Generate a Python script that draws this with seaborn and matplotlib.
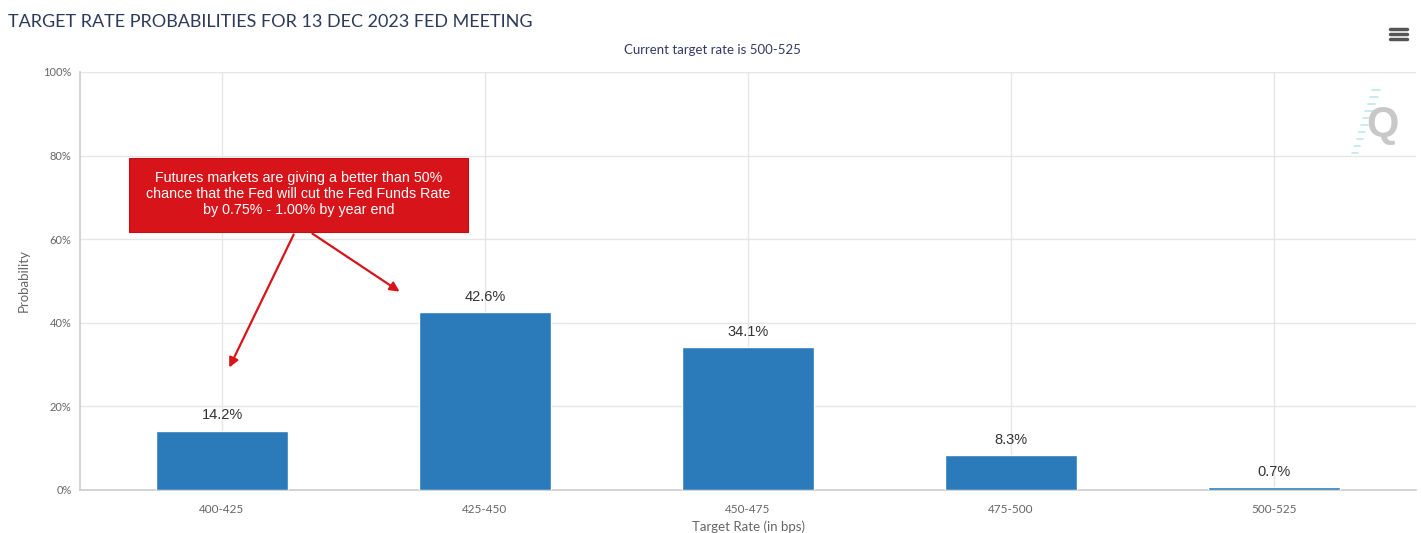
import matplotlib
matplotlib.use("Agg")
import matplotlib.pyplot as plt
import seaborn as sns
import pandas as pd
from matplotlib.patches import Rectangle
from matplotlib.lines import Line2D

categories = ["400-425", "425-450", "450-475", "475-500", "500-525"]
probabilities = [14.2, 42.6, 34.1, 8.3, 0.7]
y_ticks = [0, 20, 40, 60, 80, 100]
y_tick_labels = ["0%", "20%", "40%", "60%", "80%", "100%"]

sns.set_theme(style="white")
plt.rcParams["font.family"] = ["Lato", "DejaVu Sans"]

df = pd.DataFrame({"rate": categories, "prob": probabilities})

fig = plt.figure(figsize=(14.21, 5.33), dpi=100)
ax = fig.add_axes([80 / 1421, 43 / 533, 1336 / 1421, 418 / 533])

sns.barplot(data=df, x="rate", y="prob", color="#2b7bba", saturation=1,
            width=0.5, ax=ax, zorder=3)

ax.set_xlim(-0.54, 4.54)
ax.set_ylim(0, 100)
ax.set_yticks(y_ticks)
ax.set_yticklabels(y_tick_labels, color="#666666", fontsize=8)
ax.set_xticks(range(len(categories)))
ax.set_xticklabels(categories, color="#666666", fontsize=8.5)
ax.tick_params(axis="x", length=5, color="#cccccc", pad=5)
ax.tick_params(axis="y", length=0, pad=6)
ax.grid(True, color="#e6e6e6", linewidth=1, zorder=0)
ax.set_axisbelow(True)
for s in ["top", "right"]:
    ax.spines[s].set_visible(False)
ax.spines["left"].set_color("#cccccc")
ax.spines["bottom"].set_color("#cccccc")
ax.spines["left"].set_linewidth(1.2)
ax.spines["bottom"].set_linewidth(1.2)

ax.set_xlabel("Target Rate (in bps)", color="#666666", fontsize=9.5, labelpad=4)
ax.set_ylabel("Probability", color="#666666", fontsize=9.5, labelpad=10)

for i, v in enumerate(probabilities):
    ax.text(i, v + 2.0, f"{v}%", ha="center", va="bottom", fontsize=10.5,
            color="#333333", family=["Liberation Sans", "DejaVu Sans"], zorder=5)

# annotation box
ax.add_patch(Rectangle((-0.354, 61.7), 1.289, 17.7, facecolor="#d7141a",
                       edgecolor="#c01015", linewidth=0.8, zorder=6))
ax.text(0.291, 70.8,
        "Futures markets are giving a better than 50%\n"
        "chance that the Fed will cut the Fed Funds Rate\n"
        "by 0.75% - 1.00% by year end",
        ha="center", va="center", color="white", fontsize=10.3,
        family=["Liberation Sans", "DejaVu Sans"], linespacing=1.2, zorder=7)
ax.annotate("", xy=(0.023, 28.7), xytext=(0.277, 61.7),
            arrowprops=dict(arrowstyle="-|>", color="#d7141a", lw=1.6,
                            mutation_scale=14), zorder=6)
ax.annotate("", xy=(0.684, 47.1), xytext=(0.335, 61.7),
            arrowprops=dict(arrowstyle="-|>", color="#d7141a", lw=1.6,
                            mutation_scale=14), zorder=6)

# titles
fig.text(8 / 1421, 1 - 22 / 533, "TARGET RATE PROBABILITIES FOR 13 DEC 2023 FED MEETING",
         ha="left", va="center", fontsize=13, color="#2e3a59")
fig.text(712 / 1421, 1 - 50 / 533, "Current target rate is 500-525",
         ha="center", va="center", fontsize=9.5, color="#333a66")

# menu icon
for yy in [29, 34, 39]:
    fig.add_artist(Line2D([1390 / 1421, 1407 / 1421], [1 - yy / 533, 1 - yy / 533],
                          color="#555555", linewidth=2.5))

# watermark
fig.text(1382 / 1421, 1 - 125 / 533, "Q", ha="center", va="center", fontsize=30,
         color="#c8c8c8", fontweight="bold", family=["Liberation Sans", "DejaVu Sans"])
for k in range(10):
    yy = 90 + k * 7
    x0 = 1372 - k * 2.2
    fig.add_artist(Line2D([x0 / 1421, (x0 + 8 - k * 0.3) / 1421], [1 - yy / 533, 1 - yy / 533],
                          color="#bfe6f2", linewidth=1.2))

fig.savefig("out.png", dpi=100)
